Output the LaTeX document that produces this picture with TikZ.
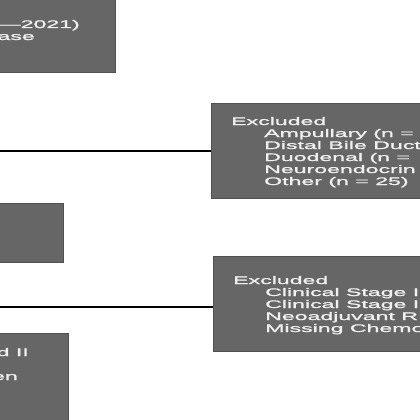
\documentclass[tikz,border=0pt]{standalone}
\usepackage{fontspec}
\newfontfamily\widesans[FakeStretch=2.1,FakeBold=1.5]{Liberation Sans}
\definecolor{boxfill}{HTML}{666666}
\definecolor{boxline}{HTML}{505050}
\definecolor{txt}{HTML}{F0F0F0}
\begin{document}
\begin{tikzpicture}[x=1pt,y=-1pt,
  box/.style={draw=boxline, fill=boxfill, line width=1.2pt, inner sep=0pt, anchor=north west},
  lbl/.style={text=txt, font=\widesans\fontsize{11}{12}\selectfont, inner sep=0pt},
  conn/.style={draw=black, line width=1.3pt}]
\useasboundingbox (0,0) rectangle (420,420);
\clip (0,0) rectangle (420,420);
% boxes
\node[box, minimum width=135pt, minimum height=92pt] (top) at (-20,-20) {};
\node[box, minimum width=83pt, minimum height=59pt] (mid) at (-20,203) {};
\node[box, minimum width=88pt, minimum height=107pt] (bot) at (-20,333) {};
\node[box, minimum width=269pt, minimum height=95pt] (r1) at (211,103) {};
\node[box, minimum width=267pt, minimum height=95pt] (r2) at (213,256) {};
% connectors
\coordinate (j1) at (-10,151);
\coordinate (j2) at (-10,307);
\draw[conn] (j1) -- (j1 -| r1.west);
\draw[conn] (j2) -- (j2 -| r2.west);
% texts
\node[lbl, anchor=base east] (t1) at (80,28) {—2021)};
\node[lbl, anchor=base east] (t2) at (35,40) {ase};
\node[lbl, anchor=base east] (b1) at (29,356) {d II};
\node[lbl, anchor=base east] (b2) at (18,380) {en};
\node[lbl, anchor=base west] (e1) at (231,125) {Excluded};
\node[lbl, anchor=base west] (e1a) at (264,137) {Ampullary (n =};
\node[lbl, anchor=base west] (e1b) at (264,149) {Distal Bile Duct};
\node[lbl, anchor=base west] (e1c) at (264,161) {Duodenal (n =};
\node[lbl, anchor=base west] (e1d) at (264,173) {Neuroendocrin};
\node[lbl, anchor=base west] (e1e) at (264,185) {Other (n = 25)};
\node[lbl, anchor=base west] (e2) at (233,284) {Excluded};
\node[lbl, anchor=base west] (e2a) at (265,296) {Clinical Stage I};
\node[lbl, anchor=base west] (e2b) at (265,308) {Clinical Stage I};
\node[lbl, anchor=base west] (e2c) at (265,320) {Neoadjuvant R};
\node[lbl, anchor=base west] (e2d) at (265,332) {Missing Chemo};
\end{tikzpicture}
\end{document}
